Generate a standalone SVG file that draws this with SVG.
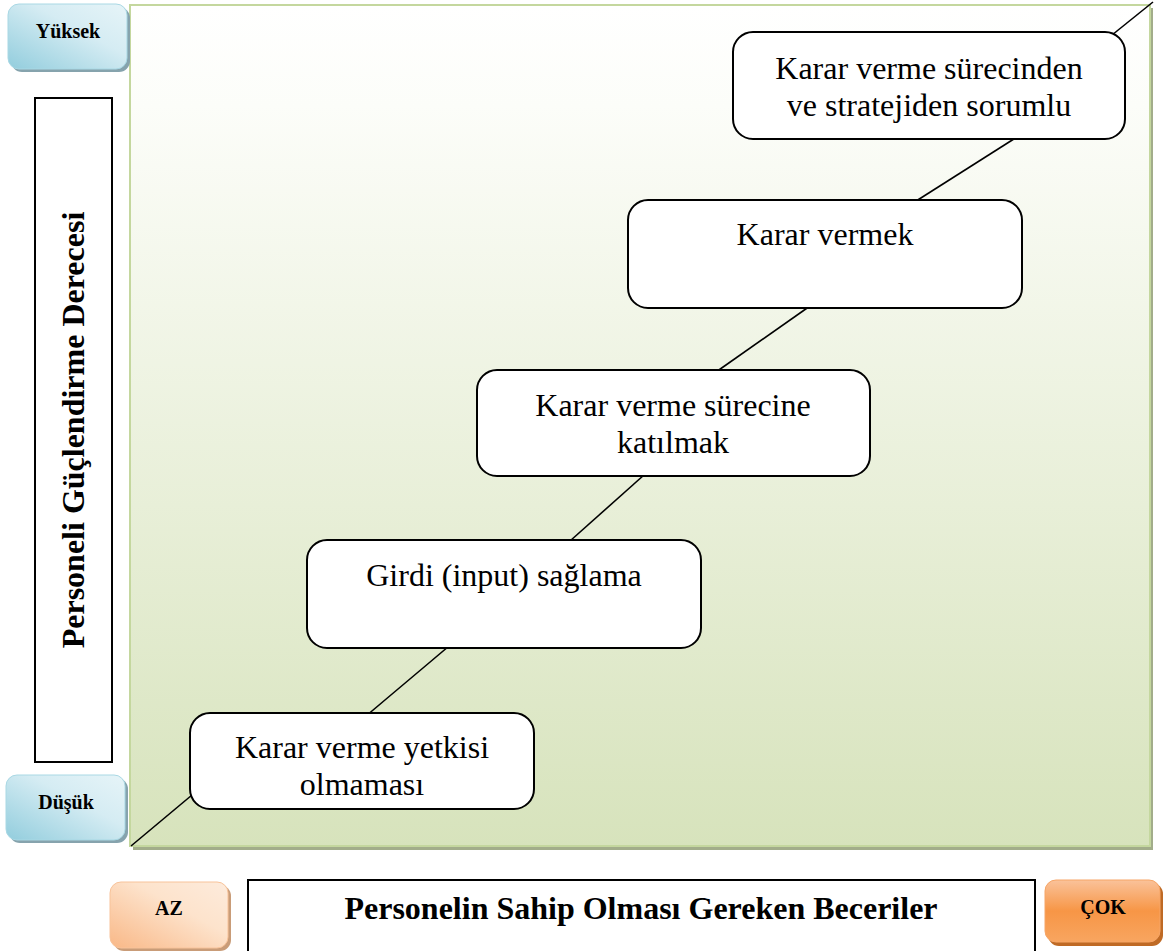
<svg xmlns="http://www.w3.org/2000/svg" width="1163" height="951" viewBox="0 0 1163 951">
<defs>
<linearGradient id="panelG" x1="0" y1="0" x2="0" y2="1">
<stop offset="0" stop-color="#ffffff"/>
<stop offset="0.12" stop-color="#fcfdf9"/>
<stop offset="1" stop-color="#d7e3bc"/>
</linearGradient>
<linearGradient id="blueG" x1="0" y1="1" x2="1" y2="0">
<stop offset="0" stop-color="#92cddd"/>
<stop offset="0.6" stop-color="#d5ecf3"/>
<stop offset="1" stop-color="#e6f4f8"/>
</linearGradient>
<linearGradient id="peachG" x1="0" y1="1" x2="1" y2="0">
<stop offset="0" stop-color="#f9b887"/>
<stop offset="0.6" stop-color="#fde3cc"/>
<stop offset="1" stop-color="#fdebdc"/>
</linearGradient>
<linearGradient id="orangeG" x1="0" y1="0" x2="0" y2="1">
<stop offset="0" stop-color="#fac29a"/>
<stop offset="0.5" stop-color="#f79646"/>
<stop offset="1" stop-color="#f8a560"/>
</linearGradient>
<style>
.node rect{fill:#ffffff;stroke:#000000;stroke-width:2}
.t{font-family:"Liberation Serif","Times New Roman",serif;font-size:32px;fill:#000000;text-anchor:middle}
.b{font-family:"Liberation Serif","Times New Roman",serif;font-weight:bold;fill:#000000;text-anchor:middle}
.conn line{stroke:#000000;stroke-width:1.6}
.box{fill:#ffffff;stroke:#000000;stroke-width:2}
</style>
</defs>
<rect width="1163" height="951" fill="#ffffff"/>

<g id="panel">
<rect x="133" y="8" width="1020" height="842" fill="#a2ad8a"/>
<rect x="130" y="5" width="1020" height="841" fill="url(#panelG)" stroke="#c4d79e" stroke-width="2"/>
</g>

<g id="yuksek">
<rect x="11" y="7" width="119" height="65" rx="11" fill="#86a3ad"/>
<rect x="8" y="4" width="119" height="65" rx="11" fill="url(#blueG)" stroke="#a9d8e4" stroke-width="1"/>
<text class="b" x="68" y="38" font-size="20">Yüksek</text>
</g>

<g id="dusuk">
<rect x="9" y="778" width="119" height="65" rx="11" fill="#86a3ad"/>
<rect x="6" y="775" width="119" height="65" rx="11" fill="url(#blueG)" stroke="#a9d8e4" stroke-width="1"/>
<text class="b" x="66" y="809" font-size="20">Düşük</text>
</g>

<g id="y-axis-label">
<rect class="box" x="35" y="98" width="77" height="664"/>
<text class="b" font-size="32" transform="translate(84,430) rotate(-90)">Personeli Güçlendirme Derecesi</text>
</g>

<g id="az">
<rect x="113" y="885" width="118" height="66" rx="11" fill="#c99c78"/>
<rect x="110" y="882" width="118" height="66" rx="11" fill="url(#peachG)" stroke="#f8c39a" stroke-width="1"/>
<text class="b" x="169" y="915" font-size="20">AZ</text>
</g>

<g id="x-axis-label">
<rect class="box" x="248" y="880" width="787" height="90"/>
<text class="b" x="641" y="919" font-size="32">Personelin Sahip Olması Gereken Beceriler</text>
</g>

<g id="cok">
<rect x="1048" y="883" width="115" height="63" rx="11" fill="#bf6a25"/>
<rect x="1045" y="880" width="115" height="62" rx="11" fill="url(#orangeG)" stroke="#f6a566" stroke-width="1"/>
<text class="b" x="1103" y="914" font-size="20">ÇOK</text>
</g>

<g id="connectors" class="conn">
<line x1="131" y1="846" x2="192" y2="795"/>
<line x1="366" y1="716" x2="455" y2="641"/>
<line x1="570" y1="541" x2="644" y2="475"/>
<line x1="716" y1="372" x2="810" y2="306"/>
<line x1="913" y1="203" x2="1017" y2="137"/>
<line x1="1112" y1="35" x2="1153" y2="2"/>
</g>

<g id="node1" class="node">
<rect x="190" y="713" width="344" height="96" rx="20"/>
<text class="t" x="362" y="758">Karar verme yetkisi</text>
<text class="t" x="362" y="795">olmaması</text>
</g>

<g id="node2" class="node">
<rect x="307" y="540" width="394" height="108" rx="20"/>
<text class="t" x="504" y="586">Girdi (input) sağlama</text>
</g>

<g id="node3" class="node">
<rect x="477" y="370" width="393" height="106" rx="20"/>
<text class="t" x="673" y="416">Karar verme sürecine</text>
<text class="t" x="673" y="453">katılmak</text>
</g>

<g id="node4" class="node">
<rect x="628" y="200" width="394" height="108" rx="20"/>
<text class="t" x="825" y="245">Karar vermek</text>
</g>

<g id="node5" class="node">
<rect x="733" y="32" width="392" height="107" rx="20"/>
<text class="t" x="929" y="79">Karar verme sürecinden</text>
<text class="t" x="929" y="116">ve stratejiden sorumlu</text>
</g>
</svg>
